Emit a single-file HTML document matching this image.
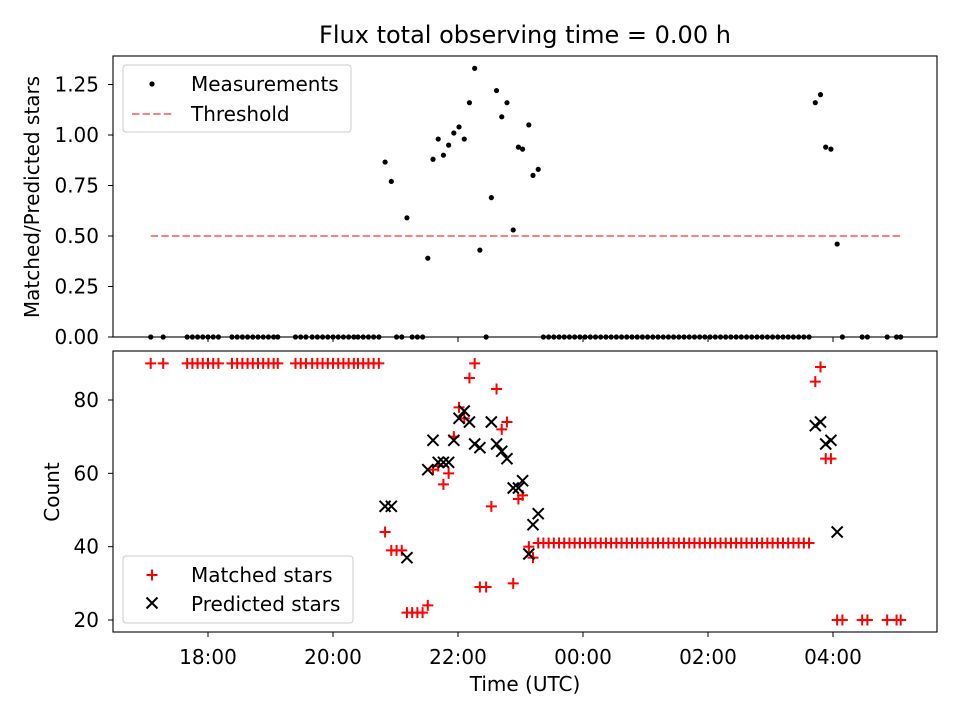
<!DOCTYPE html>
<html><head><meta charset="utf-8"><style>
body{margin:0;background:#fff}
svg{display:block;font-family:"DejaVu Sans","Liberation Sans",sans-serif}
</style></head><body>
<svg id="chart" width="960" height="720" xmlns="http://www.w3.org/2000/svg">
<rect width="960" height="720" fill="#fff"/>
<text x="525" y="43" font-size="24" text-anchor="middle">Flux total observing time = 0.00 h</text>
<g id="topPanel"></g>
<g id="botPanel"></g>
</svg>
<script>
// minutes after 17:00 UTC
const times = [5,17,40,45,50,55,60,65,70,83,88,93,98,103,108,113,118,123,127,144,149,154,160,165,170,175,180,185,190,195,200,204,209,214,219,224,
230,236,241,246,251,256,261,266,271,276,281,286,291,296,301,306,311,316,321,327,332,337,342,347,353,358,362,368,372,377,
382,387,392,397,402,407,412,417,422,427,432,437,442,447,452,457,462,467,472,477,482,487,492,497,502,507,512,517,522,527,532,537,542,547,552,557,562,567,572,577,582,587,592,597,602,607,612,617,622,627,632,637,
643,648,653,658,664,669,688,693,712,721,725];
const ratios = [0,0,0,0,0,0,0,0,0,0,0,0,0,0,0,0,0,0,0,0,0,0,0,0,0,0,0,0,0,0,0,0,0,0,0,0,
0.866,0.77,0,0,0.59,0,0,0,0.39,0.88,0.98,0.90,0.95,1.01,1.04,0.98,1.16,1.33,0.43,0,0.69,1.22,1.09,1.16,0.53,0.94,0.93,1.05,0.80,0.83,
0,0,0,0,0,0,0,0,0,0,0,0,0,0,0,0,0,0,0,0,0,0,0,0,0,0,0,0,0,0,0,0,0,0,0,0,0,0,0,0,0,0,0,0,0,0,0,0,0,0,0,0,
1.16,1.20,0.94,0.93,0.46,0,0,0,0,0,0];
const matched = [90,90,90,90,90,90,90,90,90,90,90,90,90,90,90,90,90,90,90,90,90,90,90,90,90,90,90,90,90,90,90,90,90,90,90,90,
44,39,39,39,22,22,22,22,24,61,62,57,60,70,78,75,86,90,29,29,51,83,72,74,30,53,54,40,37,41,
41,41,41,41,41,41,41,41,41,41,41,41,41,41,41,41,41,41,41,41,41,41,41,41,41,41,41,41,41,41,41,41,41,41,41,41,41,41,41,41,41,41,41,41,41,41,41,41,41,41,41,41,
85,89,64,64,20,20,20,20,20,20,20];
const predicted = [null,null,null,null,null,null,null,null,null,null,null,null,null,null,null,null,null,null,null,null,null,null,null,null,null,null,null,null,null,null,null,null,null,null,null,null,
51,51,null,null,37,null,null,null,61,69,63,63,63,69,75,77,74,68,67,null,74,68,66,64,56,56,58,38,46,49,
null,null,null,null,null,null,null,null,null,null,null,null,null,null,null,null,null,null,null,null,null,null,null,null,null,null,null,null,null,null,null,null,null,null,null,null,null,null,null,null,null,null,null,null,null,null,null,null,null,null,null,null,
73,74,68,69,44,null,null,null,null,null,null];
const threshold = 0.5;
const ratioTicks = [0,0.25,0.5,0.75,1.0,1.25];
const ratioTickLabels = ["0.00","0.25","0.50","0.75","1.00","1.25"];
const countTicks = [20,40,60,80];
const timeTicks = [60,180,300,420,540,660];
const timeTickLabels = ["18:00","20:00","22:00","00:00","02:00","04:00"];

const NS="http://www.w3.org/2000/svg";
const L=113,R=937,T1=56,B1=337,T2=351,B2=632,FS=20;
const xs=m=>145.5+m*62.5/60;
const y1=v=>337-v*202;
const y2=v=>620-(v-20)*220/60;
function mk(p,tag,at,txt){const e=document.createElementNS(NS,tag);for(const k in at)e.setAttribute(k,at[k]);if(txt!=null)e.textContent=txt;p.appendChild(e);return e;}
const topG=document.getElementById('topPanel'),botG=document.getElementById('botPanel');

// top panel
const thr=mk(topG,'line',{x1:xs(5),x2:xs(725),y1:y1(threshold),y2:y1(threshold),stroke:'#ff7f7f','stroke-width':2,'stroke-dasharray':'7.4,3.2'});


times.forEach((t,i)=>{const c=mk(topG,'circle',{cx:xs(t),cy:y1(ratios[i]),r:2.6,fill:'#000'});

});
mk(topG,'rect',{x:L,y:T1,width:R-L,height:B1-T1,fill:'none',stroke:'#000','stroke-width':1.1});
ratioTicks.forEach((v,i)=>{mk(topG,'line',{x1:L-5,x2:L,y1:y1(v),y2:y1(v),stroke:'#000'});
const tl=mk(topG,'text',{x:L-14,y:y1(v)+7,'font-size':FS,'text-anchor':'end'},ratioTickLabels[i]);

});
timeTicks.forEach(m=>mk(topG,'line',{x1:xs(m),x2:xs(m),y1:B1,y2:B1+5,stroke:'#000'}));
const yt1=mk(topG,'text',{transform:'translate(39,197) rotate(-90)','font-size':FS,'text-anchor':'middle'},'Matched/Predicted stars');


const lg1=mk(topG,'g',{});


mk(lg1,'rect',{x:123,y:65,width:228,height:67,rx:3,fill:'#fff',stroke:'#ccc'});
mk(lg1,'circle',{cx:152,cy:84,r:2.6,fill:'#000'});
mk(lg1,'text',{x:191,y:91,'font-size':FS},'Measurements');
mk(lg1,'line',{x1:132,x2:172,y1:114,y2:114,stroke:'#ff7f7f','stroke-width':2,'stroke-dasharray':'7.4,3.2'});
mk(lg1,'text',{x:191,y:121,'font-size':FS},'Threshold');

// bottom panel
function plus(p,cx,cy){return mk(p,'path',{d:`M${cx-5.5} ${cy}H${cx+5.5}M${cx} ${cy-5.5}V${cy+5.5}`,stroke:'#f00','stroke-width':2});}
function cross(p,cx,cy){return mk(p,'path',{d:`M${cx-5.5} ${cy-5.5}L${cx+5.5} ${cy+5.5}M${cx-5.5} ${cy+5.5}L${cx+5.5} ${cy-5.5}`,stroke:'#000','stroke-width':2});}
times.forEach((t,i)=>{const e=plus(botG,xs(t),y2(matched[i]));

});
times.forEach((t,i)=>{if(predicted[i]==null)return;const e=cross(botG,xs(t),y2(predicted[i]));

});
mk(botG,'rect',{x:L,y:T2,width:R-L,height:B2-T2,fill:'none',stroke:'#000','stroke-width':1.1});
countTicks.forEach(v=>{mk(botG,'line',{x1:L-5,x2:L,y1:y2(v),y2:y2(v),stroke:'#000'});
const tl=mk(botG,'text',{x:L-14,y:y2(v)+7,'font-size':FS,'text-anchor':'end'},String(v));

});
timeTicks.forEach((m,i)=>{mk(botG,'line',{x1:xs(m),x2:xs(m),y1:B2,y2:B2+5,stroke:'#000'});
const tl=mk(botG,'text',{x:xs(m),y:664,'font-size':FS,'text-anchor':'middle'},timeTickLabels[i]);

});
const yt2=mk(botG,'text',{transform:'translate(59,492) rotate(-90)','font-size':FS,'text-anchor':'middle'},'Count');


const xt=mk(botG,'text',{x:525,y:691,'font-size':FS,'text-anchor':'middle'},'Time (UTC)');


const lg2=mk(botG,'g',{});


mk(lg2,'rect',{x:123,y:556,width:230,height:67,rx:3,fill:'#fff',stroke:'#ccc'});
plus(lg2,152,575);
mk(lg2,'text',{x:191,y:582,'font-size':FS},'Matched stars');
cross(lg2,152,603);
mk(lg2,'text',{x:191,y:611,'font-size':FS},'Predicted stars');
</script>
</body></html>
